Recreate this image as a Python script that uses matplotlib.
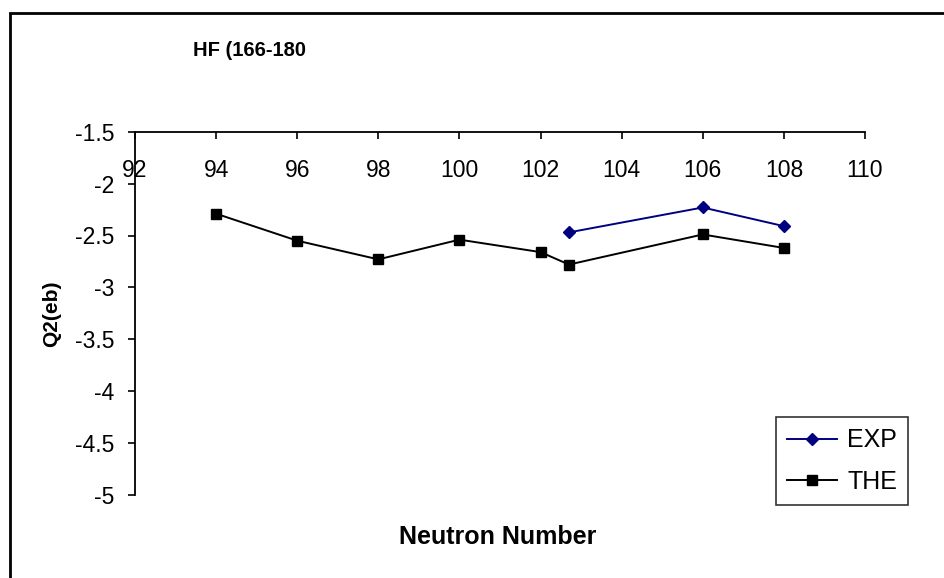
import numpy as np
import matplotlib.pyplot as plt
from matplotlib.patches import Rectangle

plt.rcParams['font.family'] = ['Liberation Sans', 'DejaVu Sans']

# datos
n_the = [94, 96, 98, 100, 102, 102.7, 106, 108]
q_the = [-2.29, -2.55, -2.73, -2.54, -2.66, -2.78, -2.49, -2.62]
n_exp = [102.7, 106, 108]
q_exp = [-2.47, -2.23, -2.41]

x_ticks = np.arange(92, 111, 2)
y_ticks = np.arange(-5, -1.4, 0.5)

fig = plt.figure(figsize=(9.45, 5.78), dpi=100)
ax = fig.add_axes([135/945, 83/578, 730/945, 363.3/578])

ax.plot(n_exp, q_exp, color='#000080', marker='D', markersize=6.5, lw=1.4, label='EXP')
ax.plot(n_the, q_the, color='black', marker='s', markersize=7.7, lw=1.4, label='THE')

ax.set_xlim(92, 110)
ax.set_ylim(-5, -1.5)
ax.set_xticks(x_ticks)
ax.set_xticklabels([str(v) for v in x_ticks])
ax.set_yticks(y_ticks)
ax.set_yticklabels(['%g' % v for v in y_ticks])

# eje x arriba (en y=-1.5), etiquetas debajo de la linea
ax.spines['bottom'].set_position(('data', -1.5))
ax.spines['top'].set_visible(False)
ax.spines['right'].set_visible(False)
ax.tick_params(axis='x', direction='out', length=5, pad=15, labelsize=16.5, width=1.2)
ax.tick_params(axis='y', direction='out', length=5, pad=10, labelsize=16.5, width=1.2)
for s in ['left', 'bottom']:
    ax.spines[s].set_linewidth(1.3)

ax.set_facecolor('none')

fig.text(498/945, 1 - 537/578, 'Neutron Number', ha='center', va='center',
         fontsize=18, fontweight='bold')
fig.text(52/945, 1 - 314/578, 'Q2(eb)', ha='center', va='center',
         rotation=90, fontsize=15, fontweight='bold')
fig.text(193/945, 1 - 50/578, 'HF (166-180', ha='left', va='center',
         fontsize=14.5, fontweight='bold')

leg = ax.legend(loc='upper left', bbox_to_anchor=((776-135)/730, (495-417)/363.3),
                frameon=True, fancybox=False, fontsize=18, handlelength=2.0,
                borderpad=0.45, labelspacing=0.7, handletextpad=0.4,
                borderaxespad=0)
leg.get_frame().set_edgecolor('black')
leg.get_frame().set_linewidth(1.2)

# borde del area del grafico
fig.patches.append(Rectangle((10/945, -0.1), 1.2, 1 - 13/578 + 0.1,
                             transform=fig.transFigure, fill=False,
                             edgecolor='black', lw=2, zorder=0))

fig.savefig('out.png', dpi=100)
